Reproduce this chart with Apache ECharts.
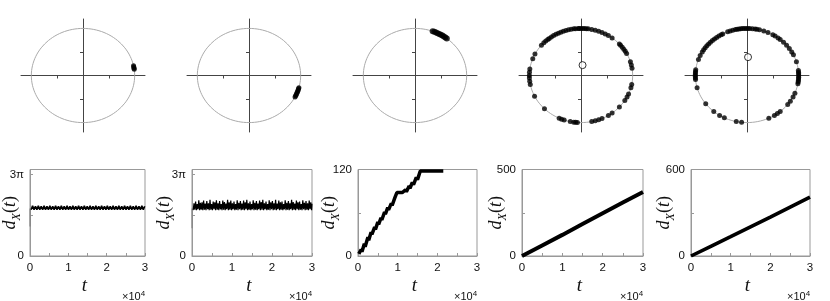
<!DOCTYPE html>
<html><head><meta charset="utf-8">
<script src="https://cdn.jsdelivr.net/npm/echarts@6/dist/echarts.min.js"></script>
<style>html,body{margin:0;padding:0;background:#fff}#c{width:830px;height:301px}</style>
</head><body><div id="c"></div>
<script>
// ---------- Top row: oscillator phases (degrees) on the unit circle ----------
const anglesA = [7.5, 9, 10.5, 12];
const anglesB = [-15, -16.5, -18, -19.5, -21, -22.5, -24, -25.5, -27];
const anglesC = [52, 54, 56, 58, 60, 62, 64, 66, 68, 70];
const anglesD = [9, 13, 17, 28, 31, 34, 37, 40, 42, 53, 58, 62, 66, 70, 74, 78, 82, 84, 86, 88, 90, 92, 93,
  96, 98, 101, 104, 107, 110, 113, 116, 119, 122, 125, 128, 130, 133, 136, 140, 153, 159, 172, 176, 180, 183,
  187, 191, 206, 225, 245, 248, 251, 258, 262, 264, 266, 282, 286, 290, 294, 302, 307, 318, 328, 333,
  337, 345, 349];
const anglesE = [17, 26, 30, 35, 40, 45, 50, 53, 57, 60, 66, 71, 76, 79, 81, 84, 87,
  89, 91, 93, 95, 97, 99, 101, 103, 106, 109, 112,
  118, 120, 123, 126, 129, 132, 135, 138, 141, 144, 147, 150, 155, 160,
  173, 175, 177, 179, 181, 183, 185, 195,
  217, 230, 238, 244, 258, 264,
  295, 302, 306, 310, 322, 327, 333, 338,
  350, 352, 354, 356, 358, 0, 2, 4, 6];
const centroidD = [0.03, 0.22];
const centroidE = [0.02, 0.39];

// ---------- Bottom row: d_X(t), t in units of 1e4 ----------
const xTickLabels = ['0', '1', '2', '3'];
const piLabels = ['0', '3π'];
const transientA = [3.4, 5.5];
const transientB = [3.2, 5.5];
const stepA = 0.0375, startA = 0.03;
const dA = [
  5.35,5.8,5.35,5.75,5.35,5.8,5.35,5.75,5.35,5.8,5.35,5.75,5.35,5.8,5.35,5.75,5.35,5.8,5.35,5.75,
  5.35,5.8,5.35,5.75,5.35,5.8,5.35,5.75,5.35,5.8,5.35,5.75,5.35,5.8,5.35,5.75,5.35,5.8,5.35,5.75,
  5.35,5.8,5.35,5.75,5.35,5.8,5.35,5.75,5.35,5.8,5.35,5.75,5.35,5.8,5.35,5.75,5.35,5.8,5.35,5.75,
  5.35,5.8,5.35,5.75,5.35,5.8,5.35,5.75,5.35,5.8,5.35,5.75,5.35,5.8,5.35,5.75,5.35,5.8,5.35,5.75];
const stepB = 0.02, startB = 0.03;
const dB = [
  5.3,6.1,5.35,6.3,5.3,6.0,5.4,6.45,5.3,6.15,5.35,6.2,5.3,6.4,5.35,
  6.05,5.3,6.35,5.4,6.1,5.3,6.5,5.35,6.0,5.3,6.3,5.4,6.2,5.3,6.45,
  5.35,6.1,5.3,6.35,5.4,6.0,5.3,6.4,5.35,6.25,5.3,6.05,5.4,6.5,5.3,
  6.2,5.35,6.4,5.3,6.1,5.4,6.3,5.3,6.0,5.35,6.45,5.3,6.15,5.4,6.35,
  5.3,6.05,5.35,6.4,5.3,6.2,5.4,6.5,5.3,6.1,5.35,6.3,5.3,6.0,5.4,
  6.45,5.3,6.15,5.35,6.35,5.3,6.05,5.4,6.4,5.3,6.25,5.35,6.5,5.3,6.1,
  5.4,6.3,5.3,6.0,5.35,6.45,5.3,6.2,5.4,6.35,5.3,6.1,5.35,6.5,5.3,
  6.05,5.4,6.4,5.3,6.2,5.35,6.3,5.3,6.0,5.4,6.45,5.3,6.15,5.35,6.35,
  5.3,6.1,5.4,6.5,5.3,6.25,5.35,6.05,5.3,6.4,5.4,6.2,5.3,6.3,5.35,
  6.0,5.3,6.45,5.4,6.15,5.3,6.35,5.35,6.1,5.3,6.4,5.4,6.2,5.3,6.05];
const tC = [0.02,0.08,0.1,0.16,0.18,0.25,0.27,0.33,0.35,0.42,0.44,0.5,0.52,0.58,0.6,0.67,0.69,0.75,0.77,
  0.84,0.86,0.93,0.98,1.12,1.14,1.2,1.22,1.29,1.31,1.37,1.4,1.47,1.5,1.57,2.15];
const dC = [3,9,6,17,13,26,22,33,30,40,37,47,44,53,50,61,58,67,64,
  73,70,81,88,88,86,92,89,97,94,102,99,109,106,118,118];
const tD = [0, 0.5, 1, 1.5, 2, 2.5, 3];
const dD = [0, 61, 122, 185, 247, 309, 370];
const tE = [0, 0.5, 1, 1.5, 2, 2.5, 3];
const dE = [0, 67, 134, 202, 270, 339, 408];

// ---------- build ----------
const chart = echarts.init(document.getElementById('c'), null, {renderer: 'canvas'});
const rad = d => d * Math.PI / 180;
const onCircle = arr => arr.map(a => [Math.cos(rad(a)), Math.sin(rad(a))]);
const unitCircle = [];
for (let a = 0; a <= 360; a += 3) unitCircle.push([Math.cos(rad(a)), Math.sin(rad(a))]);

const grids = [], xAxes = [], yAxes = [], series = [], titles = [];
const topCenters = [83, 249, 415, 581, 747];
const topAngles = [anglesA, anglesB, anglesC, anglesD, anglesE];
const topCentroids = [null, null, null, centroidD, centroidE];
const blobSizes = [5, 5, 6, 5, 5];
const axisDark = '#444';

topCenters.forEach((cx, i) => {
  grids.push({left: cx - 62, top: 19, width: 124, height: 113});
  const common = {type: 'value', min: -1.2, max: 1.2, gridIndex: i,
    axisLine: {onZero: true, lineStyle: {color: axisDark, width: 1}},
    axisTick: {show: true, customValues: [-0.5, 0.5], length: 3, lineStyle: {color: axisDark}},
    axisLabel: {show: false}, splitLine: {show: false}};
  xAxes.push(Object.assign({}, common));
  yAxes.push(Object.assign({}, common));
  series.push({type: 'line', xAxisIndex: i, yAxisIndex: i, data: unitCircle, showSymbol: false,
    lineStyle: {color: '#aaa', width: 1}, silent: true, animation: false, z: 1});
  series.push({type: 'scatter', xAxisIndex: i, yAxisIndex: i, data: onCircle(topAngles[i]),
    symbolSize: blobSizes[i], itemStyle: {color: '#000'}, animation: false, z: 3});
  if (topCentroids[i]) {
    series.push({type: 'scatter', xAxisIndex: i, yAxisIndex: i, data: [topCentroids[i]],
      symbolSize: 7, itemStyle: {color: '#fff', borderColor: '#000', borderWidth: 1}, animation: false, z: 4});
  }
});

const bottom = [
  {left: 26, width: 119, max: 10, ticks: [0, 1.5 * Math.PI, 3 * Math.PI], labels: [0, 3 * Math.PI], pi: true, gap: 11},
  {left: 192, width: 120, max: 10, ticks: [0, 1.5 * Math.PI, 3 * Math.PI], labels: [0, 3 * Math.PI], pi: true, gap: 19},
  {left: 358, width: 119, max: 120, interval: 60, gap: 20},
  {left: 522, width: 121, max: 500, interval: 250, gap: 17},
  {left: 691, width: 119, max: 600, interval: 300, gap: 18}
];
const gray = '#999';
const txt = '#111';
const labelFont = {color: txt, fontFamily: 'Liberation Sans, Arial, sans-serif', fontSize: 11.5};
bottom.forEach((b, j) => {
  const gi = 5 + j;
  grids.push({left: b.left, top: 169.5, width: b.width, height: 86.5, show: true, borderColor: gray, borderWidth: 1, backgroundColor: 'transparent'});
  xAxes.push({type: 'value', gridIndex: gi, min: 0, max: 3, interval: 0.5,
    axisLine: {lineStyle: {color: gray}}, axisTick: {inside: true, length: 3, lineStyle: {color: gray}},
    axisLabel: Object.assign({margin: 6, formatter: v => (Number.isInteger(v) ? xTickLabels[v] : '')}, labelFont),
    splitLine: {show: false},
    name: 't', nameLocation: 'middle', nameGap: 20, nameMoveOverlap: false,
    nameTextStyle: {fontFamily: 'Liberation Serif, serif', fontStyle: 'italic', fontSize: 19, color: txt, padding: [0, 6, 0, 0]}});
  const y = {type: 'value', gridIndex: gi, min: 0, max: b.max,
    axisLine: {lineStyle: {color: gray}}, splitLine: {show: false},
    name: '{i|d}{s|X}{n|(}{i|t}{n|)}', nameLocation: 'middle', nameGap: b.gap, nameRotate: 90, nameMoveOverlap: false,
    nameTextStyle: {rich: {
      i: {fontFamily: 'Liberation Serif, serif', fontStyle: 'italic', fontSize: 18, color: txt, verticalAlign: 'bottom'},
      s: {fontFamily: 'Liberation Serif, serif', fontStyle: 'italic', fontSize: 12, color: txt, verticalAlign: 'bottom', padding: [0, 0, -4, 0]},
      n: {fontFamily: 'Liberation Serif, serif', fontSize: 18, color: txt, verticalAlign: 'bottom'}}}};
  if (b.pi) {
    y.axisTick = {inside: true, length: 3, customValues: b.ticks, lineStyle: {color: gray}};
    y.axisLabel = Object.assign({margin: 6, customValues: b.labels, formatter: v => (v === 0 ? piLabels[0] : piLabels[1])}, labelFont);
  } else {
    y.interval = b.interval;
    y.axisTick = {inside: true, length: 3, lineStyle: {color: gray}};
    y.axisLabel = Object.assign({margin: 6, formatter: v => ((v === 0 || v === b.max) ? String(v) : '')}, labelFont);
  }
  yAxes.push(y);
  titles.push({text: '×10{s|4}', left: b.left + b.width - 28, top: 285,
    textStyle: {fontFamily: 'Liberation Sans, Arial, sans-serif', fontSize: 11, fontWeight: 'normal', color: txt,
      rich: {s: {fontSize: 8, verticalAlign: 'top', padding: [0, 0, 6, 0], fontFamily: 'Liberation Sans, Arial, sans-serif', color: txt}}}});
});

const lineS = (gi, data, color, width) => ({type: 'line', xAxisIndex: gi, yAxisIndex: gi, data, showSymbol: false,
  lineStyle: {color, width}, animation: false, clip: true});
series.push(lineS(5, transientA.map(v => [0.005, v]), '#888', 1.5));
series.push(lineS(5, dA.map((v, k) => [startA + k * stepA, v]), '#000', 1.6));
series.push(lineS(6, transientB.map(v => [0.005, v]), '#888', 1.5));
series.push(lineS(6, dB.map((v, k) => [Math.min(3, startB + k * stepB), v]), '#000', 1.2));
series.push(lineS(7, tC.map((t, k) => [t, dC[k]]), '#000', 3.5));
series.push(lineS(8, tD.map((t, k) => [t, dD[k]]), '#000', 4));
series.push(lineS(9, tE.map((t, k) => [t, dE[k]]), '#000', 3.6));

chart.setOption({animation: false, title: titles, grid: grids, xAxis: xAxes, yAxis: yAxes, series});
</script></body></html>
